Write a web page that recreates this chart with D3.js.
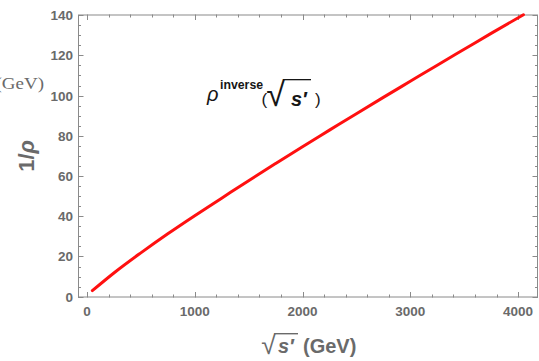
<!DOCTYPE html>
<html><head><meta charset="utf-8">
<script src="https://cdn.jsdelivr.net/npm/d3@7"></script>
<style>body{margin:0;background:#fff}svg{display:block}</style>
</head><body>
<script>
// Data
const sqrtS = [50, 250, 500, 750, 1000, 1250, 1500, 1750, 2000, 2250, 2500, 2750, 3000, 3250, 3500, 3750, 4050];
const invRho = [3.0, 11.8, 21.8, 31.3, 40.3, 49.0, 57.7, 66.2, 74.6, 82.8, 91.0, 99.1, 107.1, 115.1, 123.0, 130.9, 140.2];
const xTicks = [0, 1000, 2000, 3000, 4000];
const yTicks = [0, 20, 40, 60, 80, 100, 120, 140];
const xMinor = d3.range(0, 4200, 200);
const yMinor = d3.range(0, 141, 5);

const W = 539, H = 361;
const svg = d3.select("body").append("svg").attr("width", W).attr("height", H);
const x = d3.scaleLinear().domain([-83, 4185]).range([78, 538]);
const y = d3.scaleLinear().domain([-0.4, 140.3]).range([297.5, 14.5]);

const frameCol = "#8a8a8a", labCol = "#6a6a6a", annCol = "#161616";
const [x0, x1] = x.range(), [y0, y1] = y.range();
const fnt = "Liberation Sans, Arial, sans-serif";

// ink box of a glyph measured on a canvas (relative to text origin at baseline)
function inkBox(ch, font) {
  const c = document.createElement("canvas"); c.width = 200; c.height = 200;
  const g = c.getContext("2d"); g.font = font; g.fillStyle = "#000"; g.textBaseline = "alphabetic";
  g.fillText(ch, 50, 120);
  const d = g.getImageData(0, 0, 200, 200).data;
  let l = 1e9, r = -1, t = 1e9, b = -1;
  for (let yy = 0; yy < 200; yy++) for (let xx = 0; xx < 200; xx++) {
    if (d[(yy * 200 + xx) * 4 + 3] > 60) { l = Math.min(l, xx); r = Math.max(r, xx); t = Math.min(t, yy); b = Math.max(b, yy); }
  }
  return { l: l - 50, r: r + 1 - 50, t: t - 120, b: b + 1 - 120 };
}
// draws "√" as text scaled into a target ink box, and an overline to x2
function radical(left, right, top, bottom, x2, col, sw) {
  const fs = 40, font = `${fs}px "Liberation Sans"`;
  const bb = inkBox("√", font);
  const sx = (right - left) / (bb.r - bb.l), sy = (bottom - top) / (bb.b - bb.t);
  svg.append("text").attr("transform", `translate(${left - bb.l * sx},${top - bb.t * sy}) scale(${sx},${sy})`)
    .attr("font-family", "Liberation Sans").attr("font-size", fs).attr("fill", col).text("√");
  svg.append("line").attr("x1", right - 1.5).attr("x2", x2).attr("y1", top + sw / 2).attr("y2", top + sw / 2)
    .attr("stroke", col).attr("stroke-width", sw);
}

// frame
svg.append("rect").attr("x", x0 + 0.5).attr("y", y1 + 0.5).attr("width", x1 - x0 - 1).attr("height", y0 - y1 - 1)
  .attr("fill", "none").attr("stroke", frameCol).attr("stroke-width", 1);

const tk = svg.append("g").attr("stroke", frameCol).attr("stroke-width", 1);
function xt(v, len) {
  const px = Math.round(x(v)) + 0.5;
  tk.append("line").attr("x1", px).attr("x2", px).attr("y1", y0).attr("y2", y0 - len);
  tk.append("line").attr("x1", px).attr("x2", px).attr("y1", y1).attr("y2", y1 + len);
}
function yt(v, len) {
  const py = Math.round(y(v)) + 0.5;
  tk.append("line").attr("y1", py).attr("y2", py).attr("x1", x0).attr("x2", x0 + len);
  tk.append("line").attr("y1", py).attr("y2", py).attr("x1", x1).attr("x2", x1 - len);
}
xMinor.filter(v => !xTicks.includes(v)).forEach(v => xt(v, 3));
xTicks.forEach(v => xt(v, 5.5));
yMinor.filter(v => !yTicks.includes(v)).forEach(v => yt(v, 3));
yTicks.forEach(v => yt(v, 5.5));

// tick labels
svg.append("g").selectAll("text").data(xTicks).join("text")
  .attr("x", d => x(d)).attr("y", 315.5).attr("text-anchor", "middle")
  .attr("font-family", fnt).attr("font-weight", "bold").attr("font-size", 13.5).attr("fill", labCol)
  .text(d => d);
svg.append("g").selectAll("text").data(yTicks).join("text")
  .attr("x", 73).attr("y", d => y(d) + 5).attr("text-anchor", "end")
  .attr("font-family", fnt).attr("font-weight", "bold").attr("font-size", 13.5).attr("fill", labCol)
  .text(d => d);

// curve
svg.append("path").datum(sqrtS.map((s, i) => [s, invRho[i]]))
  .attr("d", d3.line().x(d => x(d[0])).y(d => y(d[1])).curve(d3.curveMonotoneX))
  .attr("fill", "none").attr("stroke", "#ff1010").attr("stroke-width", 3).attr("stroke-linecap", "round");

// y label
const yl = svg.append("text").attr("transform", "translate(34,156) rotate(-90)")
  .attr("text-anchor", "middle").attr("font-family", fnt).attr("font-weight", "bold")
  .attr("font-size", 22).attr("fill", labCol);
yl.append("tspan").text("1/");
yl.append("tspan").attr("font-style", "italic").text("ρ");

// clipped "(GeV)" unit
svg.append("text").attr("transform", "translate(44,89) scale(1.15,1)").attr("text-anchor", "end")
  .attr("font-family", "Liberation Serif, Times New Roman, serif").attr("font-size", 16.5).attr("fill", labCol)
  .text("(GeV)");

// x label: √s′ (GeV)
radical(262, 276, 333, 355, 298, labCol, 1.4);
svg.append("text").attr("x", 278).attr("y", 353)
  .attr("font-family", fnt).attr("font-weight", "bold").attr("font-style", "italic").attr("font-size", 20).attr("fill", labCol)
  .text("s′");
svg.append("text").attr("x", 303).attr("y", 353)
  .attr("font-family", fnt).attr("font-weight", "bold").attr("font-size", 20).attr("fill", labCol)
  .text("(GeV)");

// annotation ρ^inverse(√s′ )
const an = svg.append("g").attr("fill", annCol).attr("font-family", fnt);
an.append("text").attr("x", 207).attr("y", 101).attr("font-size", 20).attr("font-style", "italic").text("ρ");
an.append("text").attr("x", 220).attr("y", 89).attr("font-size", 12.3).attr("font-weight", "bold").text("inverse");
an.append("text").attr("x", 261.5).attr("y", 105).attr("font-size", 17).text("(");
radical(267, 285, 79, 107, 311, annCol, 1.3);
an.append("text").attr("x", 291).attr("y", 106).attr("font-size", 20).attr("font-weight", "bold").attr("font-style", "italic").text("s′");
an.append("text").attr("x", 315).attr("y", 105).attr("font-size", 17).text(")");
</script>
</body></html>
